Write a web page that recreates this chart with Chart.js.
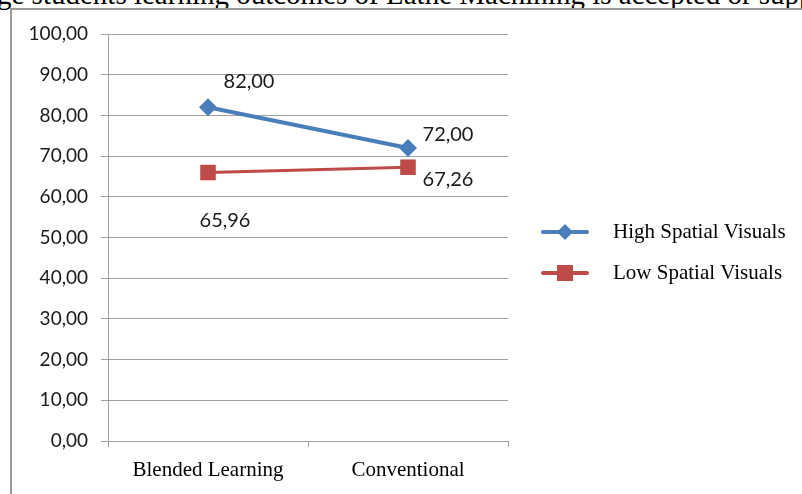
<!DOCTYPE html>
<html>
<head>
<meta charset="utf-8">
<script src="https://cdn.jsdelivr.net/npm/chart.js@4/dist/chart.umd.min.js"></script>
<style>
  html, body { margin: 0; padding: 0; background: #fff; }
  #wrap { position: relative; width: 802px; height: 494px; overflow: hidden; }
  #caption {
    position: absolute; left: -3px; top: -20px; white-space: nowrap; line-height: 29px;
    font-family: "Liberation Serif", "Times New Roman", serif; font-size: 29px; color: #000;
  }
  #frame {
    position: absolute; left: 10px; top: 8px; width: 800px; height: 500px;
    border-left: 2px solid #9a9a9a; border-top: 2px solid #9a9a9a;
  }
  #chart { position: absolute; left: 0; top: 0; }
</style>
</head>
<body>
<div id="wrap">
  <div id="caption">ge students learning outcomes of Lathe Machining is accepted or supported</div>
  <div id="frame"></div>
  <canvas id="chart" width="802" height="494"></canvas>
</div>
<script>
// Learning groups and mean scores per spatial-visual level
const categories = ["Blended Learning", "Conventional"];
const seriesNames = ["High Spatial Visuals", "Low Spatial Visuals"];
const highSpatial = [82.00, 72.00];
const lowSpatial = [65.96, 67.26];
const yTicks = [0, 10, 20, 30, 40, 50, 60, 70, 80, 90, 100];

// where each value label sits relative to its point (px)
const labelOffsets = [
  [[41, -26], [40, -13]],
  [[17, 48], [40, 12]]
];

const fmt = v => v.toFixed(2).replace(".", ",");
const SANS = "Lato, 'Open Sans', sans-serif";
const SERIF = "'Liberation Serif', 'Times New Roman', serif";

const valueLabels = {
  id: "valueLabels",
  afterDatasetsDraw(chart) {
    const ctx = chart.ctx;
    ctx.save();
    ctx.font = "20px " + SANS;
    ctx.fillStyle = "#1a1a1a";
    ctx.textAlign = "center";
    ctx.textBaseline = "middle";
    chart.data.datasets.forEach((ds, di) => {
      chart.getDatasetMeta(di).data.forEach((pt, i) => {
        const [dx, dy] = labelOffsets[di][i];
        ctx.fillText(fmt(ds.data[i]), pt.x + dx, pt.y + dy);
      });
    });
    ctx.restore();
  }
};

const sideLegend = {
  id: "sideLegend",
  afterDraw(chart) {
    const ctx = chart.ctx;
    ctx.save();
    const rows = [232, 273];
    chart.data.datasets.forEach((ds, di) => {
      const y = rows[di];
      ctx.strokeStyle = ds.borderColor;
      ctx.lineWidth = 4;
      ctx.lineCap = "round";
      ctx.beginPath();
      ctx.moveTo(543, y);
      ctx.lineTo(587, y);
      ctx.stroke();
      ctx.fillStyle = ds.backgroundColor;
      if (ds.pointStyle === "rectRot") {
        ctx.beginPath();
        ctx.moveTo(565, y - 8); ctx.lineTo(573, y); ctx.lineTo(565, y + 8); ctx.lineTo(557, y);
        ctx.closePath(); ctx.fill();
      } else {
        ctx.fillRect(557, y - 8, 16, 16);
      }
      ctx.fillStyle = "#000";
      ctx.font = "21px " + SERIF;
      ctx.textAlign = "left";
      ctx.textBaseline = "middle";
      ctx.fillText(ds.label, 613, y);
    });
    ctx.restore();
  }
};

new Chart(document.getElementById("chart"), {
  type: "line",
  data: {
    labels: categories,
    datasets: [
      {
        label: seriesNames[0], data: highSpatial,
        borderColor: "#4A7EBB", backgroundColor: "#4A7EBB", borderWidth: 4,
        pointStyle: "rectRot", pointRadius: 9, pointBorderWidth: 0, pointHoverRadius: 9
      },
      {
        label: seriesNames[1], data: lowSpatial,
        borderColor: "#BE4B48", backgroundColor: "#BE4B48", borderWidth: 3,
        pointStyle: "rect", pointRadius: 11, pointBorderWidth: 0, pointHoverRadius: 11
      }
    ]
  },
  options: {
    responsive: false,
    animation: false,
    events: [],
    layout: { padding: { top: 34, right: 294, bottom: 0, left: 0 } },
    plugins: { legend: { display: false }, tooltip: { enabled: false } },
    scales: {
      x: {
        offset: true,
        grid: { offset: true, drawOnChartArea: false, color: "#a0a0a0", tickLength: 6 },
        border: { color: "#a0a0a0", width: 1 },
        ticks: {
          color: "#000", padding: 11,
          font: { family: SERIF, size: 21 }
        },
        afterFit(scale) { scale.height = 53; }
      },
      y: {
        min: 0, max: 100,
        afterBuildTicks(scale) { scale.ticks = yTicks.map(v => ({ value: v })); },
        grid: { color: "#a0a0a0", tickLength: 7 },
        border: { color: "#a0a0a0", width: 1 },
        ticks: {
          color: "#1a1a1a", padding: 13,
          font: { family: SANS, size: 19 },
          callback: v => fmt(v)
        },
        afterFit(scale) { scale.width = 108; }
      }
    }
  },
  plugins: [valueLabels, sideLegend]
});
</script>
</body>
</html>
